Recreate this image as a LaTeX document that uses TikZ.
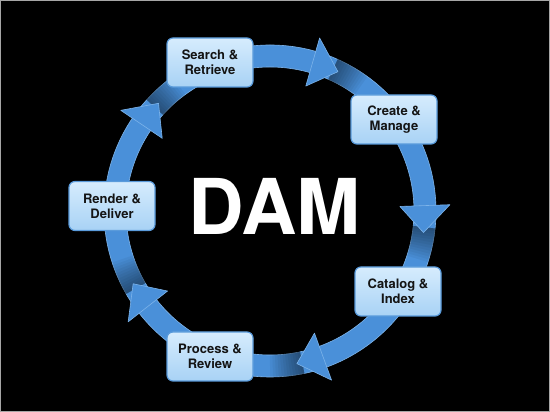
\documentclass[tikz,border=0pt]{standalone}
\usepackage{fontspec}
\setmainfont{TeX Gyre Heros}
\usetikzlibrary{calc}
\definecolor{ringblue}{HTML}{4A90D9}
\definecolor{ringedge}{HTML}{7DB4EA}
\definecolor{boxtop}{HTML}{D6ECFD}
\definecolor{boxbot}{HTML}{A8D2F5}
\definecolor{boxline}{HTML}{5A9BDB}
\definecolor{boxtext}{HTML}{141414}
\begin{document}
\begin{tikzpicture}[x=1pt,y=1pt,
  stage/.style={rectangle, rounded corners=6pt, minimum width=86pt, minimum height=49pt,
    inner sep=2pt, top color=boxtop, bottom color=boxbot, draw=boxline, line width=1.2pt,
    align=center, text=boxtext, font=\fontsize{13}{15}\selectfont\bfseries},
  band/.style={line width=22pt, draw=ringblue},
  edgeline/.style={draw=ringedge, line width=0.6pt},
  head/.style={fill=ringblue, draw=ringedge, line width=0.6pt, line join=round}]
\fill[black] (0,0) rectangle (550,412);
\draw[gray!70, line width=1pt] (0.5,0.5) rectangle (549.5,411.5);
\useasboundingbox (0,0) rectangle (550,412);
\coordinate (c) at (270,201);
% ring
\draw[band] (c) circle[radius=155pt];
\draw[edgeline] (c) circle[radius=166pt];
\draw[edgeline] (c) circle[radius=144pt];
% shadows and arrowheads
\foreach \t in {64,-8,-80,-152,-224}{
  \foreach \k in {1,...,12}{
    \draw[black, opacity=0.045, line width=23pt] ($(c)+(\t+2:155pt)$) arc[start angle=\t+2, end angle=\t+2-\k, radius=155pt];
  }
  \filldraw[head] ($(c)+(\t:155pt)$) -- ($(c)+(\t+10:180pt)$) -- ($(c)+(\t+10:130pt)$) -- cycle;
}
% stages
\node[stage] (search) at (210,349.5) {Search \&\\Retrieve};
\node[stage] (create) at (394,292.5) {Create \&\\Manage};
\node[stage] (catalog) at (398,120.5) {Catalog \&\\Index};
\node[stage] (process) at (210,55.5) {Process \&\\Review};
\node[stage] (render) at (112,206) {Render \&\\Deliver};
\node[anchor=base, inner sep=0pt, text=white, font=\fontsize{77}{77}\selectfont\bfseries] (dam) at (274.5,177) {DAM};
\end{tikzpicture}
\end{document}
